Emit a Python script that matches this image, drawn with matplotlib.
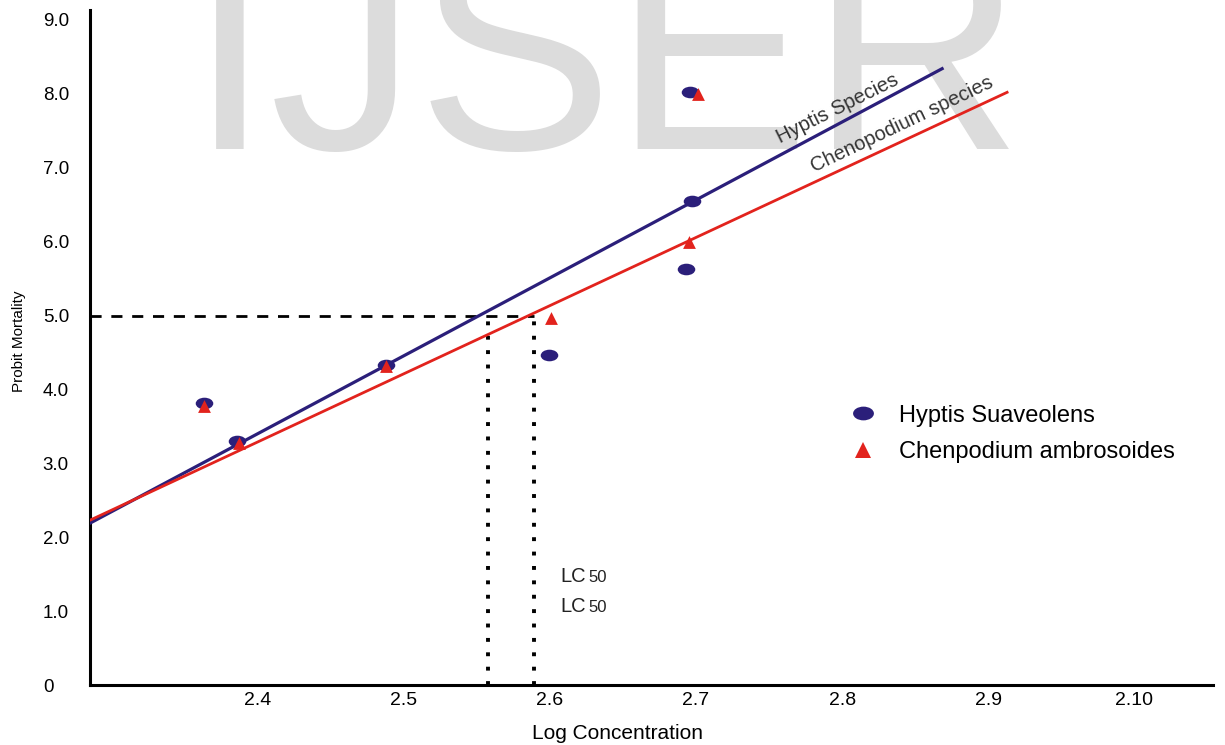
"""Probit mortality vs log concentration (Hyptis / Chenopodium), recreated."""

import matplotlib

matplotlib.use("Agg")
import matplotlib.pyplot as plt
from matplotlib.lines import Line2D
from matplotlib.path import Path
from matplotlib.transforms import Affine2D

NAVY = "#2b1f7a"
RED = "#e2231d"
GREY = "#dcdcdc"

# observed points
hyptis_x = [2.363, 2.386, 2.488, 2.599, 2.693, 2.697, 2.696]
hyptis_y = [3.82, 3.30, 4.33, 4.46, 5.63, 6.55, 8.02]
cheno_x = [2.363, 2.387, 2.488, 2.601, 2.695, 2.701]
cheno_y = [3.78, 3.28, 4.31, 4.96, 6.00, 8.00]

# fitted regression lines (end points)
hyptis_fit_x = [2.285, 2.8685]
hyptis_fit_y = [2.19, 8.34]
cheno_fit_x = [2.285, 2.913]
cheno_fit_y = [2.23, 8.02]

# LC50 guides
probit_50 = 5.0
lc50_x = [2.5575, 2.589]

x_ticks = [2.4, 2.5, 2.6, 2.7, 2.8, 2.9, 3.0]
x_labels = ["2.4", "2.5", "2.6", "2.7", "2.8", "2.9", "2.10"]
y_ticks = [0, 1, 2, 3, 4, 5, 6, 7, 8, 9]
y_labels = ["0", "1.0", "2.0", "3.0", "4.0", "5.0", "6.0", "7.0", "8.0", "9.0"]

plt.rcParams["font.family"] = ["Liberation Sans", "DejaVu Sans"]

ellipse = Path.unit_circle().transformed(Affine2D().scale(1.0, 0.66))

fig = plt.figure(figsize=(12.25, 7.45), dpi=100)
ax = fig.add_axes([90 / 1225, 60 / 745, 1123 / 1225, 675 / 745])

# marca de agua
ax.text(0.495, 0.80, "IJSER", transform=fig.transFigure, fontsize=212,
        color=GREY, ha="center", va="baseline", zorder=0)

ax.plot(hyptis_fit_x, hyptis_fit_y, color=NAVY, lw=2.3, zorder=3)
ax.plot(cheno_fit_x, cheno_fit_y, color=RED, lw=2.0, zorder=3)

ax.plot([hyptis_fit_x[0], lc50_x[1]], [probit_50, probit_50],
        color="black", lw=2, dashes=(4, 3.5), zorder=2)
for xv in lc50_x:
    ax.plot([xv, xv], [0, probit_50], color="black", lw=2.8,
            dashes=(1, 2.7), zorder=2)

ax.scatter(hyptis_x, hyptis_y, marker=ellipse, s=160, color=NAVY, zorder=4, lw=0)
ax.scatter(cheno_x, cheno_y, marker="^", s=85, color=RED, zorder=5, lw=0)

ax.text(2.797, 7.80, "Hyptis Species", rotation=26.5, fontsize=14.5, color="#333333",
        ha="center", va="center", rotation_mode="anchor")
ax.text(2.841, 7.58, "Chenopodium species", rotation=25.5, fontsize=14.5,
        color="#333333", ha="center", va="center", rotation_mode="anchor")

for y_base in (1.394, 0.988):
    ax.text(2.607, y_base, "LC", fontsize=14.5, color="#222222", va="baseline")
    ax.text(2.6265, y_base, "50", fontsize=12, color="#222222", va="baseline")

handles = [
    Line2D([], [], ls="none", marker=ellipse, ms=15, color=NAVY, mew=0),
    Line2D([], [], ls="none", marker="^", ms=11, color=RED, mew=0),
]
fig.legend(handles, ["Hyptis Suaveolens", "Chenpodium ambrosoides"],
           loc="center left", bbox_to_anchor=(852 / 1225, 1 - 434 / 745),
           frameon=False, fontsize=17, handlelength=0.95, handletextpad=1.05,
           labelspacing=0.62, borderpad=0, borderaxespad=0)

ax.set_xlim(2.285, 3.054)
ax.set_ylim(0, 9.134)
ax.set_xticks(x_ticks, x_labels, fontsize=14)
ax.set_yticks(y_ticks, y_labels, fontsize=13.5)
ax.tick_params(axis="both", length=0)
ax.tick_params(axis="x", pad=5)
ax.tick_params(axis="y", pad=34)
for lab in ax.get_yticklabels():
    lab.set_horizontalalignment("left")

for side in ("top", "right"):
    ax.spines[side].set_visible(False)
for side in ("left", "bottom"):
    ax.spines[side].set_linewidth(2.2)

ax.set_xlabel("Log Concentration", fontsize=15)
ax.xaxis.set_label_coords((618 - 90) / 1123, -0.058)
ax.set_ylabel("Probit Mortality", fontsize=11)
ax.yaxis.set_label_coords(-0.057, 0.51)

fig.savefig("out.png", dpi=100)
